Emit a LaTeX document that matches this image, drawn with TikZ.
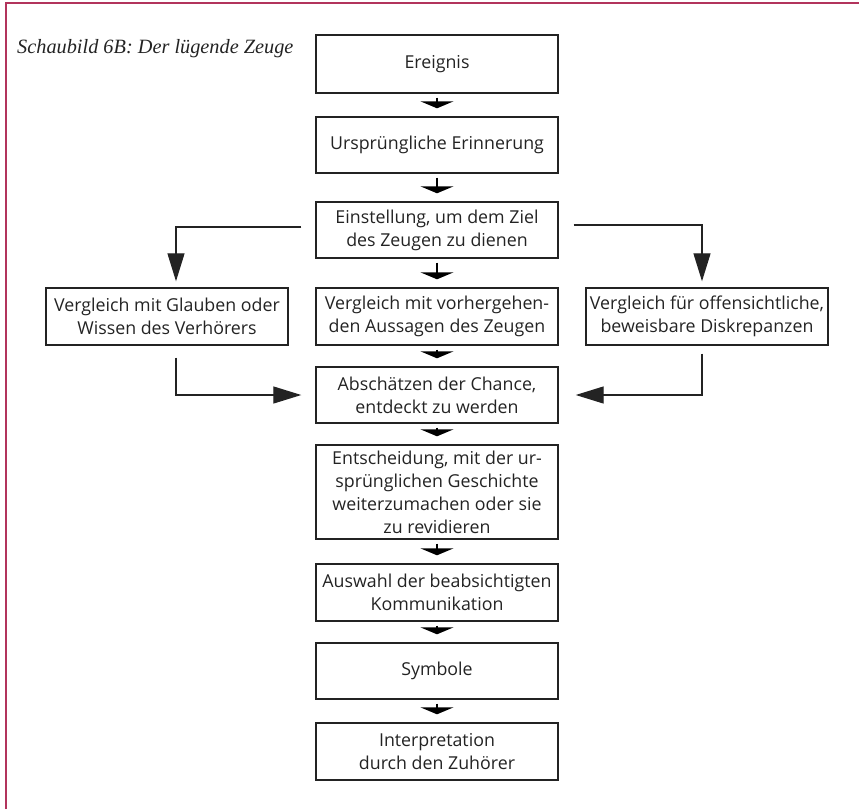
\documentclass[tikz,border=0pt]{standalone}
\usepackage{fontspec}
\setmainfont{Liberation Serif}
\setsansfont{Open Sans}
\usetikzlibrary{arrows.meta}
\definecolor{rahmen}{RGB}{178,52,92}
\definecolor{schrift}{RGB}{35,35,35}
\begin{document}
\begin{tikzpicture}[x=1pt,y=-1pt,
  kasten/.style={draw=schrift,line width=1.4pt,text=schrift,minimum width=242pt,minimum height=56pt,inner sep=2pt,align=center,font=\sffamily\fontsize{17.8}{23}\selectfont},
  klein/.style={-{Triangle[width=33pt,length=7pt]},line width=1.8pt,draw=black,shorten <=4pt,shorten >=8pt},
  gross/.style={-{Triangle[width=17pt,length=28pt]},line width=1.3pt,draw=schrift}]
\useasboundingbox (0,0) rectangle (859,809);
\draw[rahmen,line width=2.5pt] (6,809) -- (6,3) -- (859,3);
\node[anchor=base west,inner sep=0pt,text=schrift,font=\itshape\fontsize{20.3}{24}\selectfont] (titel) at (17,53) {Schaubild 6B: Der lügende Zeuge};
\node[kasten,minimum height=58pt] (ereignis) at (437,64) {Ereignis};
\node[kasten] (urspr) at (437,145) {Ursprüngliche Erinnerung};
\node[kasten] (einst) at (437,230) {Einstellung, um dem Ziel\\des Zeugen zu dienen};
\node[kasten,minimum height=57pt] (vorher) at (437,316.5) {Vergleich mit vorhergehen-\\den Aussagen des Zeugen};
\node[kasten,minimum height=57pt] (links) at (167,316.5) {Vergleich mit Glauben oder\\Wissen des Verhörers};
\node[kasten,minimum height=57pt] (rechts) at (707,316.5) {Vergleich für offensichtliche,\\beweisbare Diskrepanzen};
\node[kasten] (absch) at (437,395) {Abschätzen der Chance,\\entdeckt zu werden};
\node[kasten,minimum height=94pt] (entsch) at (437,492) {Entscheidung, mit der ur-\\sprünglichen Geschichte\\weiterzumachen oder sie\\zu revidieren};
\node[kasten,minimum height=57pt] (auswahl) at (437,592.5) {Auswahl der beabsichtigten\\Kommunikation};
\node[kasten] (symbole) at (437,671) {Symbole};
\node[kasten,minimum height=57pt] (interp) at (437,751.5) {Interpretation\\durch den Zuhörer};
\draw[klein] (ereignis) -- (urspr);
\draw[klein] (urspr) -- (einst);
\draw[klein] (einst) -- (vorher);
\draw[klein] (vorher) -- (absch);
\draw[klein] (absch) -- (entsch);
\draw[klein] (entsch) -- (auswahl);
\draw[klein] (auswahl) -- (symbole);
\draw[klein] (symbole) -- (interp);
\draw[gross,shorten >=6pt] ([xshift=-14pt,yshift=3pt]einst.west) -| ([xshift=9pt]links.north);
\draw[gross,shorten >=6pt] ([xshift=15pt,yshift=5pt]einst.east) -| ([xshift=-5pt]rechts.north);
\draw[gross,shorten <=12pt,shorten >=14pt] ([xshift=9pt]links.south) |- (absch.west);
\draw[gross,shorten <=8pt,shorten >=17pt] ([xshift=-5pt]rechts.south) |- (absch.east);
\end{tikzpicture}
\end{document}
